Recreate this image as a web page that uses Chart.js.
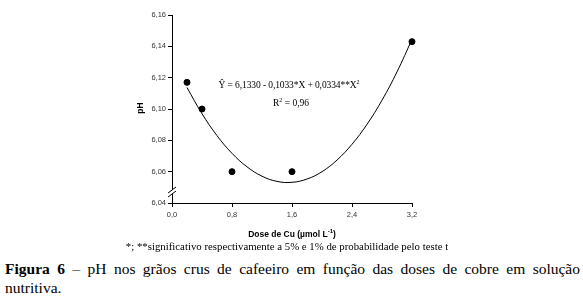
<!DOCTYPE html>
<html>
<head>
<meta charset="utf-8">
<script src="https://cdn.jsdelivr.net/npm/chart.js@4.4.0/dist/chart.umd.min.js"></script>
<style>
  body { margin:0; background:#fff; width:583px; height:300px; position:relative; overflow:hidden; }
  #c { position:absolute; left:0; top:0; }
  .t { position:absolute; white-space:nowrap; color:#000; }
  .sans { font-family:"Liberation Sans", Arial, sans-serif; }
  .serif { font-family:"Liberation Serif", "Times New Roman", serif; }
</style>
</head>
<body>
<canvas id="c" width="583" height="240"></canvas>

<div class="t sans" style="left:292px;top:228px;transform:translateX(-50%);font-size:8.5px;font-weight:bold;">Dose de Cu (µmol L<sup style="font-size:6px;">-1</sup>)</div>
<div class="t sans" style="left:140px;top:108px;transform:translate(-50%,-50%) rotate(-90deg);font-size:8.5px;font-weight:bold;">pH</div>
<div class="t serif" style="left:289px;top:79px;transform:translateX(-50%);font-size:9.5px;letter-spacing:-0.1px;">Ŷ = 6,1330 - 0,1033*X + 0,0334**X<sup style="font-size:6px;">2</sup></div>
<div class="t serif" style="left:291px;top:97px;transform:translateX(-50%);font-size:9.5px;">R<sup style="font-size:6px;">2</sup> = 0,96</div>
<div class="t serif" style="left:287px;top:240px;transform:translateX(-50%);font-size:10.8px;">*; **significativo respectivamente a 5% e 1% de probabilidade pelo teste t</div>
<div class="t serif" style="left:5px;top:260px;width:575px;font-size:15.5px;text-align:justify;text-align-last:justify;white-space:normal;"><b>Figura 6</b> – pH nos grãos crus de cafeeiro em função das doses de cobre em solução</div>
<div class="t serif" style="left:5px;top:279px;font-size:15.5px;">nutritiva.</div>

<script>
// observed means
const doses = [0.2, 0.4, 0.8, 1.6, 3.2];
const phObserved = [6.117, 6.100, 6.060, 6.060, 6.143];

// fitted curve
const curveDoses = [0.2, 0.4, 0.6, 0.8, 1.0, 1.2, 1.4, 1.6, 1.8, 2.0, 2.2, 2.4, 2.6, 2.8, 3.0, 3.2];
const phFitted = [6.1137, 6.0970, 6.0830, 6.0717, 6.0631, 6.0571, 6.0538, 6.0532, 6.0553, 6.0600, 6.0674, 6.0775, 6.0902, 6.1056, 6.1237, 6.1445];

const xTicks = [0, 0.8, 1.6, 2.4, 3.2];

const comma = (v, d) => v.toFixed(d).replace('.', ',');

const axisBreak = {
  id: 'axisBreak',
  afterDraw(chart) {
    const ctx = chart.ctx;
    const x = chart.chartArea.left;
    const y = chart.scales.y.getPixelForValue(6.047);
    ctx.save();
    ctx.fillStyle = '#fff';
    ctx.beginPath();
    ctx.moveTo(x - 4, y + 1); ctx.lineTo(x + 4, y - 5);
    ctx.lineTo(x + 4, y - 1); ctx.lineTo(x - 4, y + 5);
    ctx.closePath(); ctx.fill();
    ctx.strokeStyle = '#000'; ctx.lineWidth = 1;
    ctx.beginPath();
    ctx.moveTo(x - 4, y + 1); ctx.lineTo(x + 4, y - 5);
    ctx.moveTo(x - 4, y + 5); ctx.lineTo(x + 4, y - 1);
    ctx.stroke();
    ctx.restore();
  }
};

new Chart(document.getElementById('c'), {
  type: 'scatter',
  data: {
    datasets: [
      { data: doses.map((d, i) => ({ x: d, y: phObserved[i] })), clip: false,
        pointRadius: 3, pointBackgroundColor: '#000', pointBorderColor: '#000', order: 1 },
      { data: curveDoses.map((d, i) => ({ x: d, y: phFitted[i] })), clip: false,
        showLine: true, pointRadius: 0, borderColor: '#000', borderWidth: 1, tension: 0.4, order: 2 }
    ]
  },
  options: {
    responsive: false, animation: false, devicePixelRatio: 1,
    layout: { padding: { left: 0, right: 171, top: 15, bottom: 0 } },
    plugins: { legend: { display: false }, tooltip: { enabled: false } },
    scales: {
      x: {
        type: 'linear', min: 0, max: 3.2,
        afterFit: s => { s.height = 37; },
        afterBuildTicks: s => { s.ticks = xTicks.map(v => ({ value: v })); },
        grid: { drawOnChartArea: false, tickLength: 4, color: '#000' },
        border: { color: '#000', width: 1 },
        ticks: { padding: 3, color: '#333', font: { family: 'Liberation Sans', size: 7.5 },
          maxRotation: 0, callback: v => comma(v, 1) }
      },
      y: {
        min: 6.04, max: 6.16,
        afterFit: s => { s.width = 172; },
        grid: { drawOnChartArea: false, tickLength: 4, color: '#000' },
        border: { color: '#000', width: 1 },
        ticks: { stepSize: 0.02, padding: 2, color: '#333', font: { family: 'Liberation Sans', size: 7.5 },
          callback: v => comma(v, 2) }
      }
    }
  },
  plugins: [axisBreak]
});
</script>
</body>
</html>
